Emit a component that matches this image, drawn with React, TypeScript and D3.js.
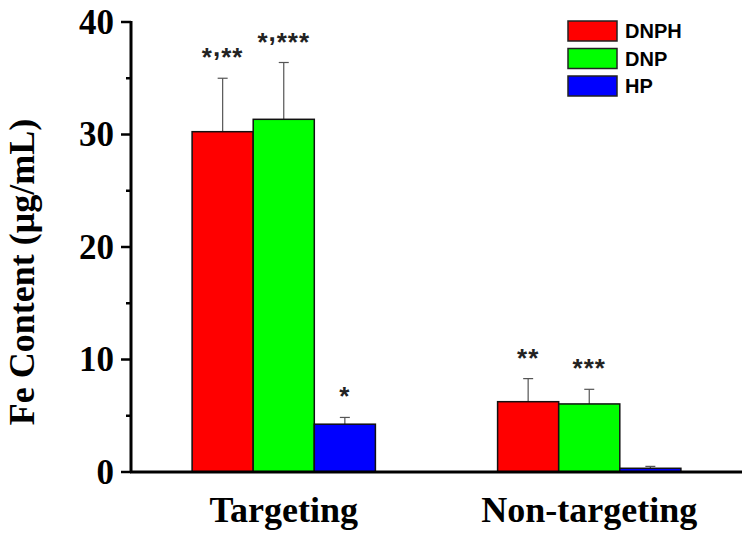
import React, { useEffect } from "react";
import * as d3 from "d3";

const groups = ["Targeting", "Non-targeting"];
const series = ["DNPH", "DNP", "HP"];
const colors = ["#ff0000", "#00ff00", "#0000ff"];
const dnph = [30.25, 6.25];
const dnp = [31.35, 6.05];
const hp = [4.25, 0.33];
const dnphErr = [4.75, 2.05];
const dnpErr = [5.05, 1.3];
const hpErr = [0.6, 0.17];
const dnphSig = ["*,**", "**"];
const dnpSig = ["*,***", "***"];
const hpSig = ["*", ""];
const yTicks = [0, 10, 20, 30, 40];
const yMinor = [5, 15, 25, 35];

const values = [dnph, dnp, hp];
const errs = [dnphErr, dnpErr, hpErr];
const sigs = [dnphSig, dnpSig, hpSig];

const serif = "'Liberation Serif', 'Times New Roman', serif";
const sans = "'Liberation Sans', Arial, sans-serif";

// stars drop below the normal asterisk height so they sit level with the comma
const starDrop = (c) => (c === "*" ? 10 : 0);

const App = () => {
  useEffect(() => {
    document.body.style.margin = "0";
  }, []);

  const width = 750;
  const height = 536;
  const margin = { top: 22, right: 8, bottom: 64, left: 131 };

  const x0 = d3.scaleBand().domain(groups).range([margin.left, width - margin.right]).padding(0);
  const x1 = d3
    .scaleBand()
    .domain(series)
    .range([0, x0.bandwidth()])
    .paddingInner(0)
    .paddingOuter(1.0);
  const y = d3.scaleLinear().domain([0, 40]).range([height - margin.bottom, margin.top]);

  const bars = [];
  series.forEach((s, si) => {
    groups.forEach((g, gi) => {
      bars.push({
        key: `${s}-${g}`,
        x: x0(g) + x1(s),
        v: values[si][gi],
        e: errs[si][gi],
        sig: sigs[si][gi],
        color: colors[si],
      });
    });
  });

  const bw = x1.bandwidth();

  return (
    <svg width={width} height={height} style={{ display: "block", background: "#fff" }}>
      {/* bars */}
      {bars.map((b) => {
        const base = y(b.v + b.e) - 22;
        const chars = b.sig.split("");
        return (
          <g key={b.key}>
            <line
              x1={b.x + bw / 2}
              x2={b.x + bw / 2}
              y1={y(b.v)}
              y2={y(b.v + b.e)}
              stroke="#555"
              strokeWidth={1.2}
            />
            <line
              x1={b.x + bw / 2 - 5}
              x2={b.x + bw / 2 + 5}
              y1={y(b.v + b.e)}
              y2={y(b.v + b.e)}
              stroke="#555"
              strokeWidth={1.2}
            />
            <rect
              x={b.x}
              y={y(b.v)}
              width={bw}
              height={y(0) - y(b.v)}
              fill={b.color}
              stroke="#111"
              strokeWidth={1.5}
            />
            {b.sig && (
              <text
                x={b.x + bw / 2}
                y={base}
                textAnchor="middle"
                fontFamily={sans}
                fontWeight="bold"
                fontSize={26}
                letterSpacing={1}
                fill="#222"
              >
                {chars.map((c, i) => (
                  <tspan key={i} dy={starDrop(c) - (i > 0 ? starDrop(chars[i - 1]) : 0)}>
                    {c}
                  </tspan>
                ))}
              </text>
            )}
          </g>
        );
      })}

      {/* y axis */}
      <line x1={margin.left} x2={margin.left} y1={y(40) - 1} y2={y(0)} stroke="#000" strokeWidth={3} />
      {yTicks.map((t) => (
        <g key={t}>
          <line x1={margin.left - 10} x2={margin.left} y1={y(t)} y2={y(t)} stroke="#000" strokeWidth={2.5} />
          <text
            x={margin.left - 17}
            y={y(t)}
            textAnchor="end"
            dominantBaseline="central"
            fontFamily={serif}
            fontWeight="bold"
            fontSize={35}
          >
            {t}
          </text>
        </g>
      ))}
      {yMinor.map((t) => (
        <line key={t} x1={margin.left - 5} x2={margin.left} y1={y(t)} y2={y(t)} stroke="#000" strokeWidth={2.5} />
      ))}

      {/* x axis */}
      <line x1={margin.left - 1} x2={width - margin.right} y1={y(0)} y2={y(0)} stroke="#000" strokeWidth={3} />
      {groups.map((g) => (
        <text
          key={g}
          x={x0(g) + x0.bandwidth() / 2}
          y={522}
          textAnchor="middle"
          fontFamily={serif}
          fontWeight="bold"
          fontSize={36}
        >
          {g}
        </text>
      ))}

      {/* y title */}
      <text
        transform={`translate(34, ${(y(0) + y(40)) / 2 + 25}) rotate(-90)`}
        textAnchor="middle"
        fontFamily={serif}
        fontWeight="bold"
        fontSize={36}
      >
        Fe Content (μg/mL)
      </text>

      {/* legend */}
      {series.map((s, i) => (
        <g key={s} transform={`translate(568, ${21 + i * 27.5})`}>
          <rect width={49} height={20} fill={colors[i]} stroke="#222" strokeWidth={1.5} />
          <text x={57} y={10} dominantBaseline="central" fontFamily={sans} fontWeight="bold" fontSize={20}>
            {s}
          </text>
        </g>
      ))}
    </svg>
  );
};

export default App;
